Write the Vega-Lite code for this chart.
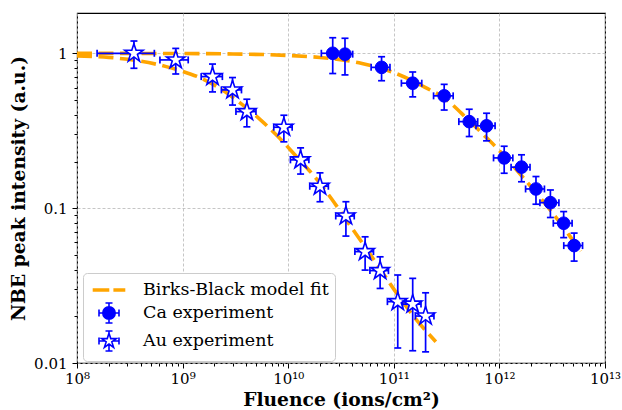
{
  "$schema": "https://vega.github.io/schema/vega-lite/v6.json",
  "autosize": {"type": "none"},
  "padding": {"left": 77, "top": 13, "right": 17, "bottom": 47},
  "width": 528,
  "height": 350,
  "background": "white",
  "datasets": {
    "fit": [
      {"curve": "Ca", "F": 1e8, "I": 0.999},
      {"curve": "Ca", "F": 1e9, "I": 0.996},
      {"curve": "Ca", "F": 3e9, "I": 0.99},
      {"curve": "Ca", "F": 1e10, "I": 0.968},
      {"curve": "Ca", "F": 2e10, "I": 0.94},
      {"curve": "Ca", "F": 3.5e10, "I": 0.9},
      {"curve": "Ca", "F": 5e10, "I": 0.86},
      {"curve": "Ca", "F": 7.5e10, "I": 0.8},
      {"curve": "Ca", "F": 1e11, "I": 0.75},
      {"curve": "Ca", "F": 1.5e11, "I": 0.665},
      {"curve": "Ca", "F": 2e11, "I": 0.6},
      {"curve": "Ca", "F": 3e11, "I": 0.515},
      {"curve": "Ca", "F": 5e11, "I": 0.375},
      {"curve": "Ca", "F": 7e11, "I": 0.3},
      {"curve": "Ca", "F": 1e12, "I": 0.235},
      {"curve": "Ca", "F": 1.5e12, "I": 0.172},
      {"curve": "Ca", "F": 2e12, "I": 0.137},
      {"curve": "Ca", "F": 3e12, "I": 0.098},
      {"curve": "Ca", "F": 4e12, "I": 0.076},
      {"curve": "Ca", "F": 5e12, "I": 0.0615},
      {"curve": "Ca", "F": 5.9e12, "I": 0.0528},
      {"curve": "Au", "F": 1e8, "I": 0.962},
      {"curve": "Au", "F": 2e8, "I": 0.94},
      {"curve": "Au", "F": 4e8, "I": 0.89},
      {"curve": "Au", "F": 7e8, "I": 0.82},
      {"curve": "Au", "F": 1e9, "I": 0.765},
      {"curve": "Au", "F": 1.5e9, "I": 0.69},
      {"curve": "Au", "F": 2.2e9, "I": 0.6},
      {"curve": "Au", "F": 3.5e9, "I": 0.478},
      {"curve": "Au", "F": 5.5e9, "I": 0.37},
      {"curve": "Au", "F": 8e9, "I": 0.29},
      {"curve": "Au", "F": 1.2e10, "I": 0.215},
      {"curve": "Au", "F": 1.8e10, "I": 0.158},
      {"curve": "Au", "F": 2.5e10, "I": 0.118},
      {"curve": "Au", "F": 3.5e10, "I": 0.085},
      {"curve": "Au", "F": 5e10, "I": 0.06},
      {"curve": "Au", "F": 7e10, "I": 0.043},
      {"curve": "Au", "F": 1e11, "I": 0.03},
      {"curve": "Au", "F": 1.5e11, "I": 0.0205},
      {"curve": "Au", "F": 2.5e11, "I": 0.0137}
    ],
    "pts": [
      {"series": "Ca experiment", "x": 2.64e10, "xlo": 2.06e10, "xhi": 3.22e10, "y": 1.0, "ylo": 0.74, "yhi": 1.26},
      {"series": "Ca experiment", "x": 3.45e10, "xlo": 2.82e10, "xhi": 4.08e10, "y": 0.987, "ylo": 0.725, "yhi": 1.25},
      {"series": "Ca experiment", "x": 7.66e10, "xlo": 6.1e10, "xhi": 9.2e10, "y": 0.811, "ylo": 0.665, "yhi": 0.95},
      {"series": "Ca experiment", "x": 1.51e11, "xlo": 1.18e11, "xhi": 1.84e11, "y": 0.641, "ylo": 0.523, "yhi": 0.757},
      {"series": "Ca experiment", "x": 3.0e11, "xlo": 2.38e11, "xhi": 3.65e11, "y": 0.531, "ylo": 0.43, "yhi": 0.63},
      {"series": "Ca experiment", "x": 5.18e11, "xlo": 4.13e11, "xhi": 6.23e11, "y": 0.362, "ylo": 0.29, "yhi": 0.435},
      {"series": "Ca experiment", "x": 7.56e11, "xlo": 6.0e11, "xhi": 9.1e11, "y": 0.34, "ylo": 0.272, "yhi": 0.41},
      {"series": "Ca experiment", "x": 1.11e12, "xlo": 8.8e11, "xhi": 1.34e12, "y": 0.211, "ylo": 0.168, "yhi": 0.251},
      {"series": "Ca experiment", "x": 1.62e12, "xlo": 1.29e12, "xhi": 1.95e12, "y": 0.184, "ylo": 0.148, "yhi": 0.221},
      {"series": "Ca experiment", "x": 2.22e12, "xlo": 1.77e12, "xhi": 2.67e12, "y": 0.133, "ylo": 0.106, "yhi": 0.16},
      {"series": "Ca experiment", "x": 3.04e12, "xlo": 2.42e12, "xhi": 3.66e12, "y": 0.1085, "ylo": 0.087, "yhi": 0.131},
      {"series": "Ca experiment", "x": 4.06e12, "xlo": 3.24e12, "xhi": 4.88e12, "y": 0.0799, "ylo": 0.0645, "yhi": 0.095},
      {"series": "Ca experiment", "x": 5.1e12, "xlo": 4.07e12, "xhi": 6.13e12, "y": 0.0573, "ylo": 0.0455, "yhi": 0.069},
      {"series": "Au experiment", "x": 3.46e8, "xlo": 1.55e8, "xhi": 5.4e8, "y": 1.0, "ylo": 0.8, "yhi": 1.2},
      {"series": "Au experiment", "x": 8.61e8, "xlo": 6.1e8, "xhi": 1.13e9, "y": 0.906, "ylo": 0.735, "yhi": 1.075},
      {"series": "Au experiment", "x": 1.92e9, "xlo": 1.5e9, "xhi": 2.38e9, "y": 0.707, "ylo": 0.563, "yhi": 0.852},
      {"series": "Au experiment", "x": 2.97e9, "xlo": 2.33e9, "xhi": 3.61e9, "y": 0.58, "ylo": 0.463, "yhi": 0.697},
      {"series": "Au experiment", "x": 4.06e9, "xlo": 3.2e9, "xhi": 4.95e9, "y": 0.42, "ylo": 0.335, "yhi": 0.505},
      {"series": "Au experiment", "x": 9.1e9, "xlo": 7.3e9, "xhi": 1.09e10, "y": 0.333, "ylo": 0.268, "yhi": 0.398},
      {"series": "Au experiment", "x": 1.31e10, "xlo": 1.05e10, "xhi": 1.57e10, "y": 0.205, "ylo": 0.166, "yhi": 0.245},
      {"series": "Au experiment", "x": 2.0e10, "xlo": 1.6e10, "xhi": 2.4e10, "y": 0.1385, "ylo": 0.11, "yhi": 0.169},
      {"series": "Au experiment", "x": 3.52e10, "xlo": 2.82e10, "xhi": 4.22e10, "y": 0.089, "ylo": 0.066, "yhi": 0.11},
      {"series": "Au experiment", "x": 5.35e10, "xlo": 4.28e10, "xhi": 6.42e10, "y": 0.0524, "ylo": 0.0398, "yhi": 0.0653},
      {"series": "Au experiment", "x": 7.42e10, "xlo": 5.94e10, "xhi": 8.9e10, "y": 0.0395, "ylo": 0.0303, "yhi": 0.0485},
      {"series": "Au experiment", "x": 1.09e11, "xlo": 8.7e10, "xhi": 1.31e11, "y": 0.0249, "ylo": 0.0125, "yhi": 0.037},
      {"series": "Au experiment", "x": 1.51e11, "xlo": 1.21e11, "xhi": 1.81e11, "y": 0.024, "ylo": 0.012, "yhi": 0.0352},
      {"series": "Au experiment", "x": 2.0e11, "xlo": 1.6e11, "xhi": 2.4e11, "y": 0.0201, "ylo": 0.0118, "yhi": 0.0284}
    ]
  },
  "layer": [
    {
      "data": {"name": "fit"},
      "mark": {"type": "line", "color": "#ffa500", "strokeWidth": 3.6, "strokeDash": [15, 6.5], "interpolate": "monotone"},
      "encoding": {
        "x": {"field": "F", "type": "quantitative", "title": "Fluence (ions/cm²)",
          "scale": {"type": "log", "domain": [1e8, 1e13], "nice": false},
          "axis": {
            "values": [1e8,2e8,3e8,4e8,5e8,6e8,7e8,8e8,9e8,1e9,2e9,3e9,4e9,5e9,6e9,7e9,8e9,9e9,1e10,2e10,3e10,4e10,5e10,6e10,7e10,8e10,9e10,1e11,2e11,3e11,4e11,5e11,6e11,7e11,8e11,9e11,1e12,2e12,3e12,4e12,5e12,6e12,7e12,8e12,9e12,1e13],
            "labelExpr": "abs(log(datum.value)/LN10 - round(log(datum.value)/LN10)) > 0.000001 ? '' : round(log(datum.value)/LN10) == 8 ? '10⁸' : round(log(datum.value)/LN10) == 9 ? '10⁹' : round(log(datum.value)/LN10) == 10 ? '10¹⁰' : round(log(datum.value)/LN10) == 11 ? '10¹¹' : round(log(datum.value)/LN10) == 12 ? '10¹²' : '10¹³'",
            "tickSize": {"condition": {"test": "abs(log(datum.value)/LN10 - round(log(datum.value)/LN10)) < 0.000001", "value": 5}, "value": 3},
            "grid": true,
            "gridOpacity": {"condition": {"test": "abs(log(datum.value)/LN10 - round(log(datum.value)/LN10)) < 0.000001", "value": 1}, "value": 0},
            "labelPadding": 3,
            "titlePadding": 4
          }
        },
        "y": {"field": "I", "type": "quantitative", "title": "NBE peak intensity (a.u.)",
          "scale": {"type": "log", "domain": [0.01, 1.82], "nice": false},
          "axis": {
            "values": [0.01,0.02,0.03,0.04,0.05,0.06,0.07,0.08,0.09,0.1,0.2,0.3,0.4,0.5,0.6,0.7,0.8,0.9,1],
            "labelExpr": "abs(log(datum.value)/LN10 - round(log(datum.value)/LN10)) > 0.000001 ? '' : round(log(datum.value)/LN10) == 0 ? '1' : round(log(datum.value)/LN10) == -1 ? '0.1' : '0.01'",
            "tickSize": {"condition": {"test": "abs(log(datum.value)/LN10 - round(log(datum.value)/LN10)) < 0.000001", "value": 5}, "value": 3},
            "grid": true,
            "gridOpacity": {"condition": {"test": "abs(log(datum.value)/LN10 - round(log(datum.value)/LN10)) < 0.000001", "value": 1}, "value": 0},
            "labelPadding": 5,
            "titlePadding": 5
          }
        },
        "detail": {"field": "curve"}
      }
    },
    {
      "data": {"name": "pts"},
      "mark": {"type": "rule", "color": "#0000ff", "strokeWidth": 1.7},
      "encoding": {
        "x": {"field": "x", "type": "quantitative", "title": "Fluence (ions/cm²)", "scale": {"type": "log", "domain": [1e8, 1e13], "nice": false}},
        "y": {"field": "ylo", "type": "quantitative", "title": "NBE peak intensity (a.u.)", "scale": {"type": "log", "domain": [0.01, 1.82], "nice": false}},
        "y2": {"field": "yhi"}
      }
    },
    {
      "data": {"name": "pts"},
      "mark": {"type": "rule", "color": "#0000ff", "strokeWidth": 1.7},
      "encoding": {
        "x": {"field": "xlo", "type": "quantitative", "title": "Fluence (ions/cm²)", "scale": {"type": "log", "domain": [1e8, 1e13], "nice": false}},
        "x2": {"field": "xhi"},
        "y": {"field": "y", "type": "quantitative", "title": "NBE peak intensity (a.u.)", "scale": {"type": "log", "domain": [0.01, 1.82], "nice": false}}
      }
    },
    {
      "data": {"name": "pts"},
      "mark": {"type": "tick", "color": "#0000ff", "orient": "horizontal", "size": 7, "thickness": 1.7, "opacity": 1},
      "encoding": {
        "x": {"field": "x", "type": "quantitative", "title": "Fluence (ions/cm²)", "scale": {"type": "log", "domain": [1e8, 1e13], "nice": false}},
        "y": {"field": "yhi", "type": "quantitative", "title": "NBE peak intensity (a.u.)", "scale": {"type": "log", "domain": [0.01, 1.82], "nice": false}}
      }
    },
    {
      "data": {"name": "pts"},
      "mark": {"type": "tick", "color": "#0000ff", "orient": "horizontal", "size": 7, "thickness": 1.7, "opacity": 1},
      "encoding": {
        "x": {"field": "x", "type": "quantitative", "title": "Fluence (ions/cm²)", "scale": {"type": "log", "domain": [1e8, 1e13], "nice": false}},
        "y": {"field": "ylo", "type": "quantitative", "title": "NBE peak intensity (a.u.)", "scale": {"type": "log", "domain": [0.01, 1.82], "nice": false}}
      }
    },
    {
      "data": {"name": "pts"},
      "mark": {"type": "tick", "color": "#0000ff", "orient": "vertical", "size": 7, "thickness": 1.7, "opacity": 1},
      "encoding": {
        "x": {"field": "xlo", "type": "quantitative", "title": "Fluence (ions/cm²)", "scale": {"type": "log", "domain": [1e8, 1e13], "nice": false}},
        "y": {"field": "y", "type": "quantitative", "title": "NBE peak intensity (a.u.)", "scale": {"type": "log", "domain": [0.01, 1.82], "nice": false}}
      }
    },
    {
      "data": {"name": "pts"},
      "mark": {"type": "tick", "color": "#0000ff", "orient": "vertical", "size": 7, "thickness": 1.7, "opacity": 1},
      "encoding": {
        "x": {"field": "xhi", "type": "quantitative", "title": "Fluence (ions/cm²)", "scale": {"type": "log", "domain": [1e8, 1e13], "nice": false}},
        "y": {"field": "y", "type": "quantitative", "title": "NBE peak intensity (a.u.)", "scale": {"type": "log", "domain": [0.01, 1.82], "nice": false}}
      }
    },
    {
      "data": {"name": "pts"},
      "transform": [{"filter": "datum.series === 'Ca experiment'"}],
      "mark": {"type": "point", "filled": true, "size": 160, "strokeWidth": 1, "opacity": 1},
      "encoding": {
        "x": {"field": "x", "type": "quantitative", "title": "Fluence (ions/cm²)", "scale": {"type": "log", "domain": [1e8, 1e13], "nice": false}},
        "y": {"field": "y", "type": "quantitative", "title": "NBE peak intensity (a.u.)", "scale": {"type": "log", "domain": [0.01, 1.82], "nice": false}},
        "fill": {"field": "series", "type": "nominal",
          "scale": {"domain": ["Birks-Black model fit", "Ca experiment", "Au experiment"], "range": ["#ffa500", "#0000ff", "#ffffff"]},
          "legend": {
            "title": null,
            "orient": "none",
            "legendX": 6,
            "legendY": 260,
            "symbolSize": 400,
            "symbolStrokeWidth": 1.6,
            "symbolType": {"expr": "datum.value === 'Ca experiment' ? 'M-0.62,0A0.62,0.62,0,1,0,0.62,0A0.62,0.62,0,1,0,-0.62,0ZM-1,0H1M0,-1V1M-1,-0.35V0.35M1,-0.35V0.35M-0.35,-1H0.35M-0.35,1H0.35' : datum.value === 'Au experiment' ? 'M0,-0.78L0.175,-0.241L0.742,-0.241L0.283,0.092L0.459,0.631L0,0.298L-0.459,0.631L-0.283,0.092L-0.742,-0.241L-0.175,-0.241ZM0,-1V-0.78M0,0.298V1M-1,0H-0.41M0.41,0H1M-1,-0.35V0.35M1,-0.35V0.35M-0.35,-1H0.35M-0.35,1H0.35' : 'M-1.55,-0.1H-0.05V0.1H-1.55ZM0.52,-0.1H1.55V0.1H0.52Z'"},
            "symbolOffset": 9,
            "labelOffset": 23,
            "labelLimit": 400,
            "labelFont": "DejaVu Serif",
            "labelFontSize": 17.5,
            "labelColor": "black",
            "padding": 6,
            "rowPadding": 0,
            "strokeColor": "#cccccc",
            "fillColor": "white",
            "cornerRadius": 4
          }
        },
        "stroke": {"field": "series", "type": "nominal",
          "scale": {"domain": ["Birks-Black model fit", "Ca experiment", "Au experiment"], "range": ["#ffa500", "#0000ff", "#0000ff"]}}
      }
    },
    {
      "data": {"name": "pts"},
      "transform": [{"filter": "datum.series === 'Au experiment'"}],
      "mark": {"type": "point", "filled": true, "fill": "#ffffff", "stroke": "#0000ff", "shape": "M0,-1L0.2245,-0.309L0.951,-0.309L0.363,0.118L0.588,0.809L0,0.382L-0.588,0.809L-0.363,0.118L-0.951,-0.309L-0.2245,-0.309Z", "size": 370, "strokeWidth": 1.6, "opacity": 1},
      "encoding": {
        "x": {"field": "x", "type": "quantitative", "title": "Fluence (ions/cm²)", "scale": {"type": "log", "domain": [1e8, 1e13], "nice": false}},
        "y": {"field": "y", "type": "quantitative", "title": "NBE peak intensity (a.u.)", "scale": {"type": "log", "domain": [0.01, 1.82], "nice": false}}
      }
    }
  ],
  "config": {
    "view": {"stroke": "black", "strokeWidth": 1.1},
    "axis": {
      "domain": false,
      "tickColor": "black",
      "tickWidth": 1,
      "labelColor": "black",
      "titleColor": "black",
      "labelFont": "DejaVu Serif",
      "titleFont": "DejaVu Serif",
      "labelFontSize": 15,
      "titleFontSize": 18.7,
      "titleFontWeight": "bold",
      "labelFlush": false,
      "labelOverlap": false,
      "labelBound": false,
      "gridColor": "#b8b8b8",
      "gridDash": [3, 2],
      "gridWidth": 0.8
    }
  }
}
